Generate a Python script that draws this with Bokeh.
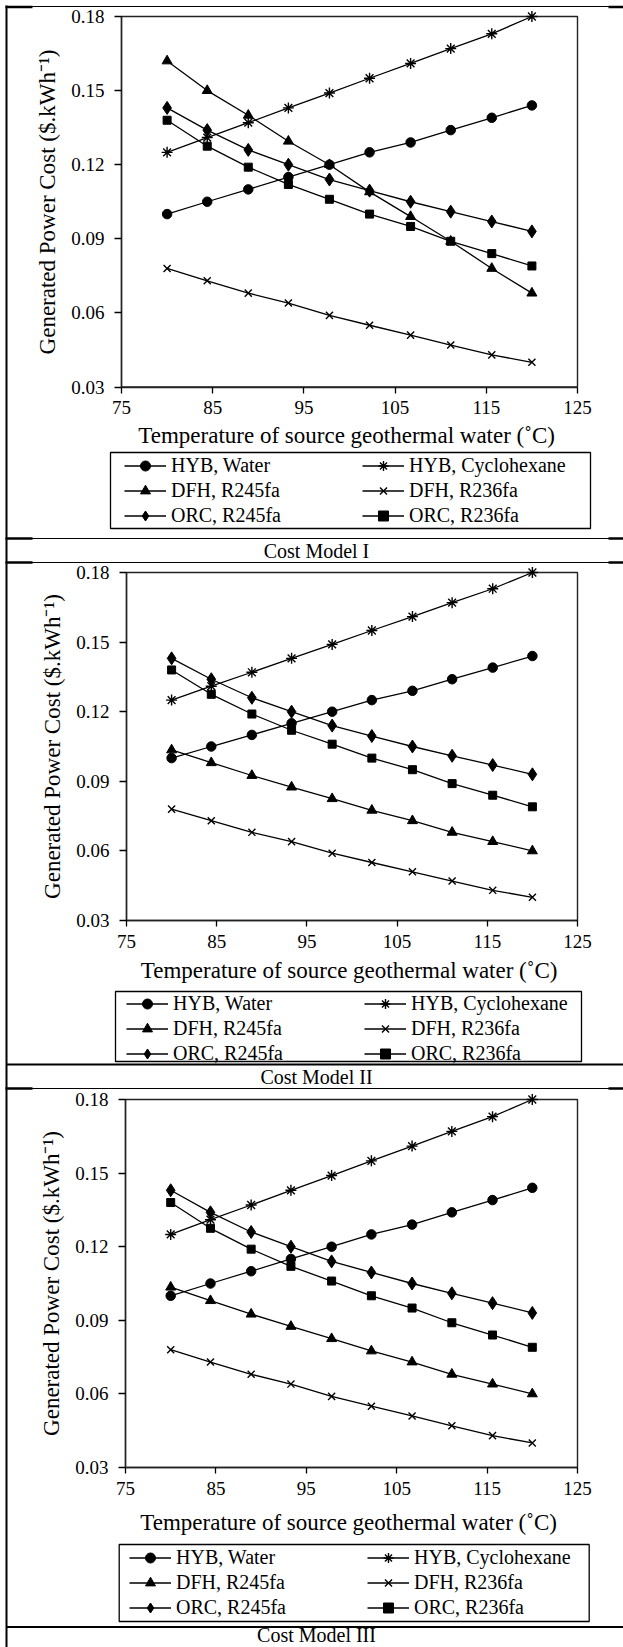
from bokeh.plotting import figure
from bokeh.models import Range1d, LinearAxis, FixedTicker, PrintfTickFormatter, Legend, LegendItem
from bokeh.core.properties import value
from bokeh.embed import file_html
from bokeh.resources import INLINE

# ---------------- data ----------------
temperature = [80, 84.4, 88.9, 93.3, 97.8, 102.2, 106.7, 111.1, 115.6, 120]
hyb_water = [0.100, 0.105, 0.110, 0.115, 0.120, 0.125, 0.129, 0.134, 0.139, 0.144]
hyb_cyclohexane = [0.125, 0.131, 0.137, 0.143, 0.149, 0.155, 0.161, 0.167, 0.173, 0.180]
dfh_r245fa_model1 = [0.162, 0.150, 0.140, 0.1295, 0.120, 0.109, 0.099, 0.089, 0.078, 0.068]
dfh_r245fa_model23 = [0.1035, 0.098, 0.0925, 0.0875, 0.0825, 0.0775, 0.073, 0.068, 0.064, 0.060]
dfh_r236fa = [0.078, 0.073, 0.068, 0.064, 0.059, 0.055, 0.051, 0.047, 0.043, 0.040]
orc_r245fa = [0.143, 0.134, 0.126, 0.120, 0.114, 0.1095, 0.105, 0.101, 0.097, 0.093]
orc_r236fa = [0.138, 0.1275, 0.119, 0.112, 0.106, 0.100, 0.095, 0.089, 0.084, 0.079]

series_names = ["HYB, Water", "HYB, Cyclohexane", "DFH, R245fa",
                "DFH, R236fa", "ORC, R245fa", "ORC, R236fa"]
panel_titles = ["Cost Model I", "Cost Model II", "Cost Model III"]
panel_series = [
    [hyb_water, hyb_cyclohexane, dfh_r245fa_model1, dfh_r236fa, orc_r245fa, orc_r236fa],
    [hyb_water, hyb_cyclohexane, dfh_r245fa_model23, dfh_r236fa, orc_r245fa, orc_r236fa],
    [hyb_water, hyb_cyclohexane, dfh_r245fa_model23, dfh_r236fa, orc_r245fa, orc_r236fa],
]
x_ticks = [75, 85, 95, 105, 115, 125]
y_ticks = [0.03, 0.06, 0.09, 0.12, 0.15, 0.18]
x_title = "Temperature of  source geothermal water (\u02daC)"
y_title = "Generated Power Cost ($.kWh\u207b\u00b9)"

# ---------------- styles / layout ----------------
FONT = "Liberation Serif"
markers = [
    dict(marker="circle", size=9.5, fill_color="black", line_width=1),
    dict(marker="asterisk", size=11, fill_color=None, line_width=1.4),
    dict(marker="triangle", size=10, fill_color="black", line_width=1),
    dict(marker="x", size=10, fill_color=None, line_width=1.4),
    dict(marker="diamond", size=13, fill_color="black", line_width=1),
    dict(marker="square", size=8, fill_color="black", line_width=1),
]
W, H = 623, 1647  # canvas size; canvas pixels are picture pixels
# plot boxes (left, right, top, bottom) in picture pixels
boxes = [(121, 577, 16, 386.5), (126, 577, 572, 920), (125, 577, 1099, 1467)]
xlabel_standoff = [5, 7, 12]
legend_boxes = [(110, 590, 452, 528), (115, 581, 991, 1061), (118.7, 588.7, 1544, 1621)]
legend_first = [(124, 452.5), (126, 990.5), (129, 1544.5)]
captions_xy = [(316, 550), (316, 1076), (316, 1634)]  # text centres

p = figure(width=W, height=H, x_range=Range1d(0, W), y_range=Range1d(H, 0),
           x_axis_type=None, y_axis_type=None,
           toolbar_location=None, output_backend="svg", min_border=0)
p.outline_line_color = None
p.background_fill_color = "white"
p.border_fill_color = "white"

# table rules
seg_x0 = [6, 5, 608, 6, 5, 608, 6, 5, 608, 6, 6, 5, 608, 6, 6]
seg_x1 = [W, 32, W, W, 32, W, W, 32, W, W, W, 32, W, W, 6]
seg_y0 = [6, 6.5, 6.5, 538, 538, 538, 562, 562, 562, 1064, 1088, 1088, 1088, 1626.5, 5]
seg_y1 = [6, 6.5, 6.5, 538, 538, 538, 562, 562, 562, 1064, 1088, 1088, 1088, 1626.5, H]
seg_w = [1, 2.5, 2.5, 1.2, 2.5, 2.5, 1.2, 2.5, 2.5, 2, 1.2, 2.5, 2.5, 2, 2]
p.segment(x0=seg_x0, y0=seg_y0, x1=seg_x1, y1=seg_y1, line_width=seg_w, line_color="black")

for i, (L, R, T, B) in enumerate(boxes):
    kx = (x_ticks[-1] - x_ticks[0]) / (R - L)
    ky = (y_ticks[-1] - y_ticks[0]) / (B - T)
    xn, yn = f"x{i}", f"y{i}"
    p.extra_x_ranges[xn] = Range1d(x_ticks[0] - L * kx, x_ticks[-1] + (W - R) * kx)
    p.extra_y_ranges[yn] = Range1d(y_ticks[0] - (H - B) * ky, y_ticks[-1] + T * ky)

    # plot box
    p.quad(left=[x_ticks[0]], right=[x_ticks[-1]], bottom=[y_ticks[0]], top=[y_ticks[-1]],
           fill_color=None, line_color="#222222", line_width=1.4,
           x_range_name=xn, y_range_name=yn)

    xa = LinearAxis(x_range_name=xn, y_range_name=yn, fixed_location=y_ticks[0],
                    bounds=(x_ticks[0], x_ticks[-1]), ticker=FixedTicker(ticks=x_ticks),
                    formatter=PrintfTickFormatter(format="%d"), axis_label=x_title)
    ya = LinearAxis(x_range_name=xn, y_range_name=yn, fixed_location=x_ticks[0],
                    bounds=(y_ticks[0], y_ticks[-1]), ticker=FixedTicker(ticks=y_ticks),
                    formatter=PrintfTickFormatter(format="%.2f"), axis_label=y_title)
    for ax in (xa, ya):
        ax.axis_line_color = "#222222"
        ax.axis_line_width = 1.4
        ax.major_tick_line_width = 1.3
        ax.major_tick_in = 0
        ax.minor_tick_in = 0
        ax.minor_tick_out = 0
        ax.major_label_text_font = FONT
        ax.major_label_text_font_size = "19px"
        ax.major_label_text_color = "black"
        ax.axis_label_text_font = FONT
        ax.axis_label_text_font_size = "23px"
        ax.axis_label_text_font_style = "normal"
        ax.axis_label_text_color = "black"
    xa.major_tick_out = 6
    xa.major_label_standoff = 8
    xa.axis_label_standoff = xlabel_standoff[i]
    ya.major_tick_out = 7
    ya.major_label_standoff = 10
    ya.axis_label_standoff = 8
    p.add_layout(xa, "below")
    p.add_layout(ya, "left")

    items = []
    for name, ys, mk in zip(series_names, panel_series[i], markers):
        lr = p.line(temperature, ys, line_color="black", line_width=1.3,
                    x_range_name=xn, y_range_name=yn)
        sr = p.scatter(temperature, ys, line_color="black", x_range_name=xn,
                       y_range_name=yn, **mk)
        items.append(LegendItem(label=name, renderers=[lr, sr]))

    bl, br, bt, bb = legend_boxes[i]
    p.quad(left=[bl], right=[br], top=[bt], bottom=[bb], fill_color=None,
           line_color="black", line_width=1.3)
    gx, gt = legend_first[i]
    legend = Legend(items=items, location=(gx, H - (gt + 75)),
                    orientation="horizontal", ncols=2,
                    glyph_width=42, glyph_height=25, label_height=25, label_width=191,
                    label_standoff=5, spacing=0, padding=0, margin=0,
                    border_line_color=None, background_fill_alpha=0,
                    label_text_font=FONT, label_text_font_size="20px",
                    label_text_color="black")
    p.add_layout(legend)

cx = [c[0] for c in captions_xy]
cy = [c[1] for c in captions_xy]
p.text(x=cx, y=cy, text=panel_titles, text_font=value(FONT), text_font_size=value("20px"),
       text_align="center", text_baseline="middle", text_color="black")

open("out.html", "w").write(file_html(p, INLINE))
